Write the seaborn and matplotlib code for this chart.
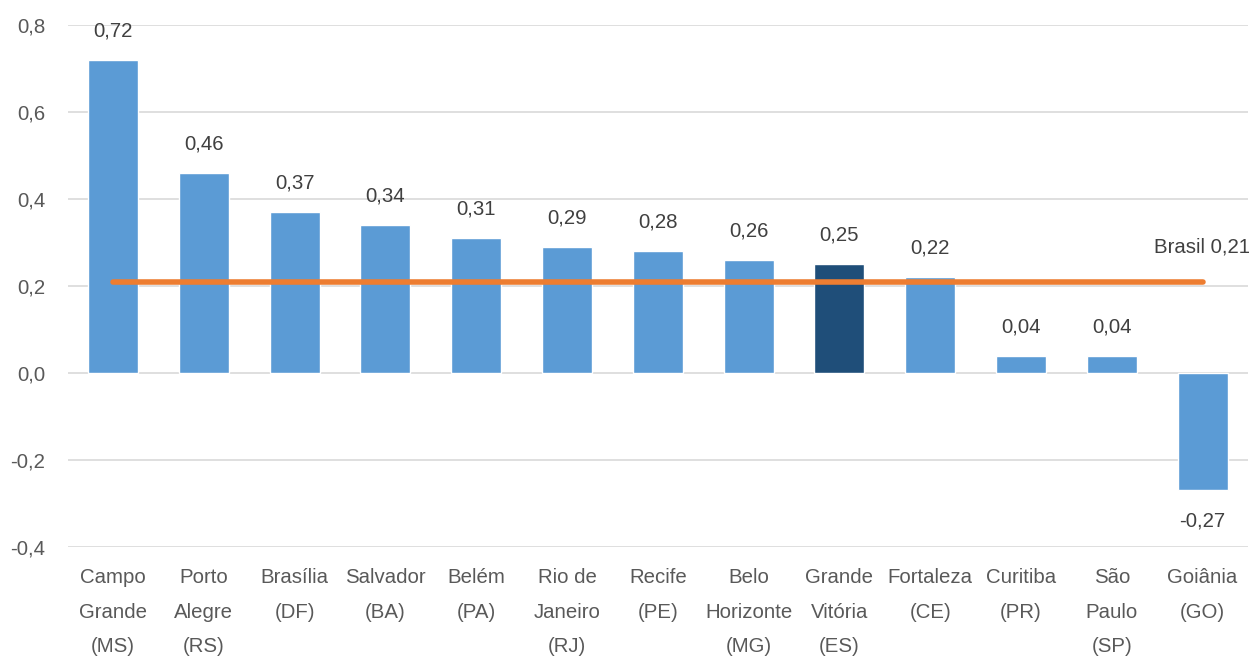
import matplotlib
matplotlib.use("Agg")
import matplotlib.pyplot as plt
import pandas as pd
import seaborn as sns

# values
cities = [
    "Campo\nGrande\n(MS)", "Porto\nAlegre\n(RS)", "Brasília\n(DF)", "Salvador\n(BA)",
    "Belém\n(PA)", "Rio de\nJaneiro\n(RJ)", "Recife\n(PE)", "Belo\nHorizonte\n(MG)",
    "Grande\nVitória\n(ES)", "Fortaleza\n(CE)", "Curitiba\n(PR)", "São\nPaulo\n(SP)",
    "Goiânia\n(GO)",
]
values = [0.72, 0.46, 0.37, 0.34, 0.31, 0.29, 0.28, 0.26, 0.25, 0.22, 0.04, 0.04, -0.27]
brasil = [0.21] * len(cities)
highlight = "Grande\nVitória\n(ES)"

BLUE = "#5B9BD5"
DARK = "#1F4E79"
ORANGE = "#ED7D31"
TEXT = "#404040"
FS = 14.7

df = pd.DataFrame({"city": cities, "value": values})

sns.set_theme(style="white")
plt.rcParams["font.family"] = ["Liberation Sans", "DejaVu Sans"]

fig = plt.figure(figsize=(12.53, 6.57), dpi=100)
ax = fig.add_axes([0.054, 0.1674, 0.942, 0.7946])

palette = [DARK if c == highlight else BLUE for c in cities]
sns.barplot(data=df, x="city", y="value", hue="city", palette=palette,
            legend=False, width=0.55, saturation=1, ax=ax, zorder=2)

# Brasil average line
ax.plot(range(len(cities)), brasil, color=ORANGE, lw=4, solid_capstyle="round", zorder=3)
ax.text(len(cities) - 1 + 0.52, brasil[-1] + 0.08, "Brasil 0,21", ha="right", va="center",
        fontsize=FS, color=TEXT)

for i, v in enumerate(values):
    off = 29 if v >= 0 else -31
    ax.annotate(f"{v:.2f}".replace(".", ","), (i, v), xytext=(0, off),
                textcoords="offset pixels", ha="center", va="center",
                fontsize=FS, color=TEXT)

ax.set_ylim(-0.4, 0.8)
ax.set_xlim(-0.5, len(cities) - 0.5)
yt = [-0.4, -0.2, 0.0, 0.2, 0.4, 0.6, 0.8]
ax.set_yticks(yt)
ax.set_yticklabels([f"{t:.1f}".replace(".", ",") for t in yt], fontsize=FS, color="#595959")
ax.tick_params(axis="x", labelsize=FS, labelcolor="#595959", pad=15, length=0)
ax.tick_params(axis="y", length=0, pad=16)
for lab in ax.get_xticklabels():
    lab.set_linespacing(2.05)
    lab.set_va("top")
ax.grid(axis="y", color="#D9D9D9", lw=1.2, zorder=0)
ax.set_axisbelow(True)
ax.set_xlabel("")
ax.set_ylabel("")
for s in ax.spines.values():
    s.set_visible(False)

fig.savefig("out.png", dpi=100)
